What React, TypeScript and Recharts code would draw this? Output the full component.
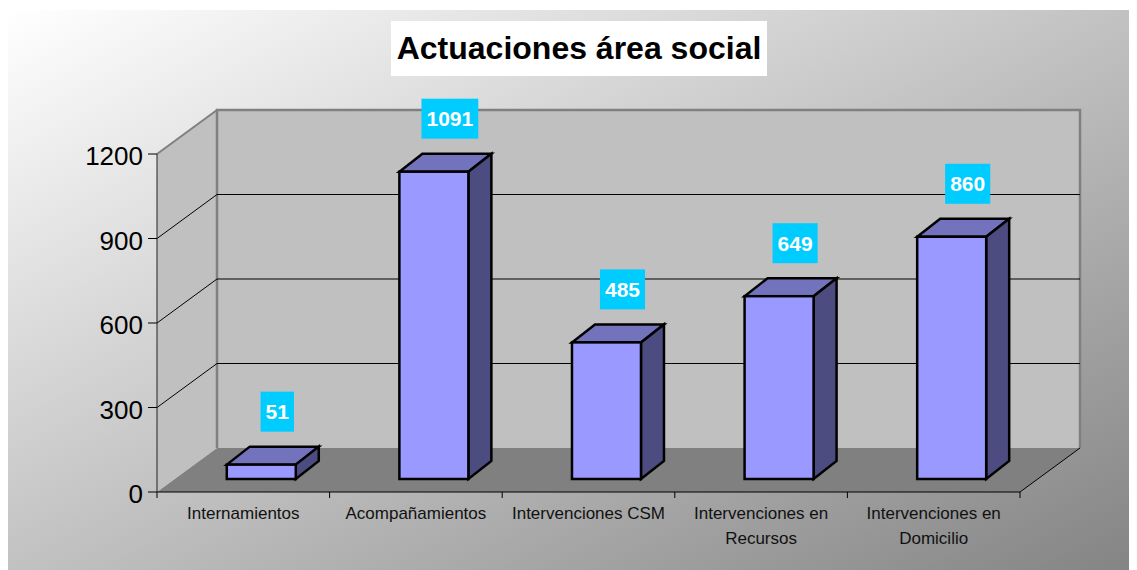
import React from 'react'
import { BarChart, Bar, XAxis, YAxis, CartesianGrid, LabelList } from 'recharts'

const chartTitle = 'Actuaciones área social'
const categories = [
  'Internamientos',
  'Acompañamientos',
  'Intervenciones CSM',
  'Intervenciones en Recursos',
  'Intervenciones en Domicilio',
]
const actuaciones = [51, 1091, 485, 649, 860]
const yTicks = [0, 300, 600, 900, 1200]

const data = categories.map((name, i) => ({ name, value: actuaciones[i] }))

const FONT = '"Liberation Sans", Arial, sans-serif'

// 3D look: back wall offset, bar plane offset and bar depth
const DEPTH_X = 60
const DEPTH_Y = -44
const BAR_SHIFT_X = 18
const BAR_SHIFT_Y = -13
const BAR_DX = 23
const BAR_DY = -18

const wrapLabel = (text: string, max = 18) => {
  const lines: string[] = []
  let cur = ''
  text.split(' ').forEach((w) => {
    const next = cur ? cur + ' ' + w : w
    if (next.length > max && cur) {
      lines.push(cur)
      cur = w
    } else {
      cur = next
    }
  })
  if (cur) lines.push(cur)
  return lines
}

// walls + floor are drawn with the first grid line, then each grid line on the walls
function WallLine(props: any) {
  const { x1, x2, y1, index, horizontalPoints } = props
  const pts: number[] = horizontalPoints && horizontalPoints.length ? horizontalPoints : [props.y, props.y + props.height]
  const top = Math.min(...pts)
  const bottom = Math.max(...pts)
  const left = x1
  const right = x2
  const isEdge = Math.abs(y1 - top) < 1 || Math.abs(y1 - bottom) < 1

  return (
    <g key={`wall-${index}`}>
      {index === 0 && (
        <g>
          <polygon
            points={`${left},${bottom} ${right},${bottom} ${right + DEPTH_X},${bottom + DEPTH_Y} ${left + DEPTH_X},${bottom + DEPTH_Y}`}
            fill="#808080"
          />
          <polygon
            points={`${left},${top} ${left},${bottom} ${left + DEPTH_X},${bottom + DEPTH_Y} ${left + DEPTH_X},${top + DEPTH_Y}`}
            fill="#C0C0C0"
          />
          <rect
            x={left + DEPTH_X}
            y={top + DEPTH_Y}
            width={right - left}
            height={bottom - top}
            fill="#C0C0C0"
          />
          <polyline
            points={`${left + DEPTH_X},${bottom + DEPTH_Y} ${left + DEPTH_X},${top + DEPTH_Y} ${right + DEPTH_X},${top + DEPTH_Y} ${right + DEPTH_X},${bottom + DEPTH_Y}`}
            fill="none"
            stroke="#808080"
            strokeWidth={2.5}
          />
          <line x1={left} y1={top} x2={left + DEPTH_X} y2={top + DEPTH_Y} stroke="#808080" strokeWidth={2} />
          <line x1={right} y1={bottom} x2={right + DEPTH_X} y2={bottom + DEPTH_Y} stroke="#000" strokeWidth={1} />
        </g>
      )}
      {!isEdge && (
        <g>
          <line x1={left} y1={y1} x2={left + DEPTH_X} y2={y1 + DEPTH_Y} stroke="#000" strokeWidth={1} />
          <line x1={left + DEPTH_X} y1={y1 + DEPTH_Y} x2={right + DEPTH_X} y2={y1 + DEPTH_Y} stroke="#000" strokeWidth={1} />
        </g>
      )}
    </g>
  )
}

function Bar3D(props: any) {
  const { x, y, width, height } = props
  if (width == null || height == null) return null
  const fx = x + BAR_SHIFT_X
  const fy = y + BAR_SHIFT_Y
  const stroke = { stroke: '#000', strokeWidth: 2.5, strokeLinejoin: 'miter' as const }
  return (
    <g>
      <polygon
        points={`${fx},${fy} ${fx + width},${fy} ${fx + width + BAR_DX},${fy + BAR_DY} ${fx + BAR_DX},${fy + BAR_DY}`}
        fill="#7373BD"
        {...stroke}
      />
      <polygon
        points={`${fx + width},${fy} ${fx + width + BAR_DX},${fy + BAR_DY} ${fx + width + BAR_DX},${fy + height + BAR_DY} ${fx + width},${fy + height}`}
        fill="#4C4C80"
        {...stroke}
      />
      <rect x={fx} y={fy} width={width} height={height} fill="#9999FF" {...stroke} />
    </g>
  )
}

function ValueBadge(props: any) {
  const vb = props.viewBox ?? {}
  const x = props.x ?? vb.x
  const y = props.y ?? vb.y
  const width = props.width ?? vb.width
  if (x == null || y == null) return null
  const text = String(props.value)
  const cx = x + width / 2 + BAR_SHIFT_X + 16
  const cy = y + BAR_SHIFT_Y - 53
  const w = text.length * 11.7 + 10
  return (
    <g>
      <rect x={cx - w / 2} y={cy - 20} width={w} height={40} fill="#00CCFF" />
      <text x={cx} y={cy + 7.5} textAnchor="middle" fontSize={21} fontWeight="bold" fill="#fff" fontFamily={FONT}>
        {text}
      </text>
    </g>
  )
}

function YTick(props: any) {
  const { x, y, payload } = props
  return (
    <text x={x} y={y + 11} textAnchor="end" fontSize={26} fill="#000" fontFamily={FONT}>
      {payload.value}
    </text>
  )
}

function XTick(props: any) {
  const { x, y, payload, index, visibleTicksCount, width } = props
  const count = visibleTicksCount ?? categories.length
  const band = (width ?? 863) / count
  const lines = wrapLabel(String(payload.value))
  return (
    <g>
      <line x1={x - band / 2} x2={x - band / 2} y1={y} y2={y + 6} stroke="#000" />
      {index === count - 1 && <line x1={x + band / 2} x2={x + band / 2} y1={y} y2={y + 6} stroke="#000" />}
      <text x={x} y={y + 27} textAnchor="middle" fontSize={17} fill="#111" fontFamily={FONT}>
        {lines.map((l, i) => (
          <tspan key={i} x={x} dy={i === 0 ? 0 : 25}>
            {l}
          </tspan>
        ))}
      </text>
    </g>
  )
}

export default function App() {
  return (
    <div style={{ position: 'relative', width: 1129, height: 562, fontFamily: FONT }}>
      <div
        style={{
          position: 'absolute',
          left: 0,
          top: 2,
          width: 1129,
          height: 560,
          background: 'linear-gradient(to bottom right, #ffffff, #848484)',
        }}
      >
        <BarChart
          width={1129}
          height={560}
          data={data}
          margin={{ top: 144, right: 117, bottom: 8, left: 89 }}
          barCategoryGap="30%"
        >
          <CartesianGrid horizontal={WallLine} vertical={false} />
          <XAxis
            dataKey="name"
            height={70}
            interval={0}
            tickSize={0}
            tickMargin={0}
            tickLine={false}
            axisLine={{ stroke: '#000' }}
            tick={XTick}
          />
          <YAxis
            width={60}
            domain={[0, 1200]}
            ticks={yTicks}
            tickSize={9}
            tickMargin={5}
            tickLine={{ stroke: '#000' }}
            axisLine={{ stroke: '#222' }}
            tick={YTick}
          />
          <Bar dataKey="value" shape={Bar3D} isAnimationActive={false}>
            <LabelList dataKey="value" content={ValueBadge} />
          </Bar>
        </BarChart>
        <div
          style={{
            position: 'absolute',
            left: 383,
            top: 11,
            width: 376,
            height: 55,
            background: '#fff',
            textAlign: 'center',
            fontSize: 32,
            fontWeight: 'bold',
            lineHeight: '55px',
            color: '#000',
          }}
        >
          {chartTitle}
        </div>
      </div>
    </div>
  )
}
